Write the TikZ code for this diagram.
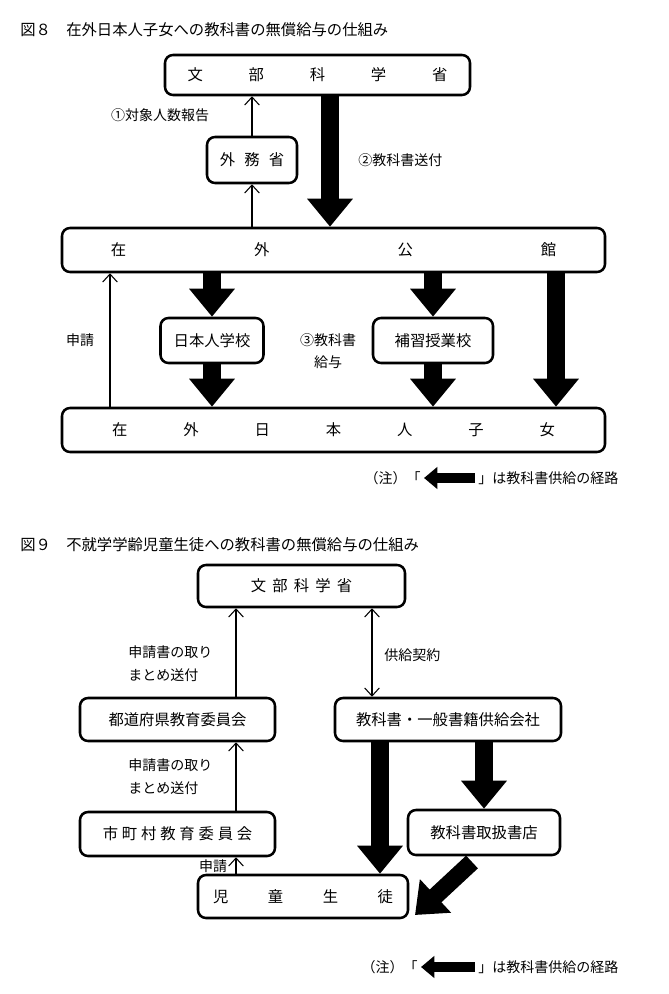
\documentclass[tikz,border=0pt]{standalone}
\usepackage{fontspec}
\setmainfont{Noto Sans CJK JP}
\usetikzlibrary{arrows.meta}
\begin{document}
\begin{tikzpicture}[x=0.75pt,y=-0.75pt,
  box/.style={draw,line width=1.9pt,rounded corners=6pt,inner sep=0pt,font=\fontsize{11.5}{13}\selectfont},
  lbl/.style={inner sep=0pt,font=\fontsize{10.5}{17}\selectfont},
  ttl/.style={inner sep=0pt,anchor=west,font=\fontsize{11.5}{13}\selectfont},
  thin/.style={line width=0.8pt,-{Straight Barb[length=6pt 0 0,width=11pt 0 0]}},
  thinboth/.style={line width=0.8pt,{Straight Barb[length=6pt 0 0,width=11pt 0 0]}-{Straight Barb[length=6pt 0 0,width=11pt 0 0]}},
  fat/.style={line width=13pt,-{Triangle[length=21pt 0 0,width=33pt 0 0]}},
  fatsmall/.style={line width=7.5pt,-{Triangle[length=10pt 0 0,width=16pt 0 0]}}]
\useasboundingbox (0,0) rectangle (668,994);
% ---------- Figure 8 ----------
\node[ttl] (t8) at (20,30) {図８　在外日本人子女への教科書の無償給与の仕組み};
\node[box,minimum width={0.75*305},minimum height={0.75*40}] (m8) at (317.5,75) {\makebox[195pt]{文\hfill 部\hfill 科\hfill 学\hfill 省}};
\node[box,minimum width={0.75*90},minimum height={0.75*46}] (gm) at (252,160) {外\hspace{0.6em}務\hspace{0.6em}省};
\node[box,minimum width={0.75*543},minimum height={0.75*44}] (kk) at (333.5,250) {\makebox[334pt]{在\hfill 外\hfill 公\hfill 館}};
\node[box,minimum width={0.75*103},minimum height={0.75*45}] (nj) at (212,340.5) {日本人学校};
\node[box,minimum width={0.75*120},minimum height={0.75*45}] (hs) at (433,340.5) {補習授業校};
\node[box,minimum width={0.75*543},minimum height={0.75*44}] (sj) at (333.5,430) {\makebox[332pt]{在\hfill 外\hfill 日\hfill 本\hfill 人\hfill 子\hfill 女}};
\draw[thin] (gm.north) -- (m8.south -| gm.north);
\draw[thin] (kk.north -| gm.south) -- (gm.south);
\draw[fat] (m8.south -| 330,0) -- (kk.north -| 330,0);
\draw[fat] (kk.south -| nj.north) -- (nj.north);
\draw[fat] (nj.south) -- (sj.north -| nj.south);
\draw[fat] (kk.south -| hs.north) -- (hs.north);
\draw[fat] (hs.south) -- (sj.north -| hs.south);
\draw[fat] (kk.south -| 556,0) -- (sj.north -| 556,0);
\draw[thin] (sj.north -| 110,0) -- (kk.south -| 110,0);
\node[lbl] (l1) at (160,115) {①対象人数報告};
\node[lbl,anchor=west] (l2) at (358,160) {②教科書送付};
\node[lbl] (l3) at (80,340) {申請};
\node[lbl,align=center] (l4) at (328,351) {③教科書\\給与};
\node[lbl,anchor=east] (n8a) at (421,478) {（注）「};
\node[lbl,anchor=west] (n8b) at (478,478) {」は教科書供給の経路};
\draw[fatsmall] (n8b.west) ++(-3,0) coordinate (n8c) -- (n8a.east -| 424,0);
% ---------- Figure 9 ----------
\node[ttl] (t9) at (20,545) {図９　不就学学齢児童生徒への教科書の無償給与の仕組み};
\node[box,minimum width={0.75*207},minimum height={0.75*42}] (m9) at (301.5,586) {文\hspace{0.4em}部\hspace{0.4em}科\hspace{0.4em}学\hspace{0.4em}省};
\node[box,minimum width={0.75*195},minimum height={0.75*43}] (td) at (177.5,719.5) {都道府県教育委員会};
\node[box,minimum width={0.75*226},minimum height={0.75*43}] (ks) at (448,719.5) {教科書・一般書籍供給会社};
\node[box,minimum width={0.75*195},minimum height={0.75*44}] (sc) at (177.5,834) {市\hspace{0.25em}町\hspace{0.25em}村\hspace{0.25em}教\hspace{0.25em}育\hspace{0.25em}委\hspace{0.25em}員\hspace{0.25em}会};
\node[box,minimum width={0.75*152},minimum height={0.75*45}] (sh) at (484,832.5) {教科書取扱書店};
\node[box,minimum width={0.75*210},minimum height={0.75*43}] (jd) at (303,896.5) {\makebox[135pt]{児\hfill 童\hfill 生\hfill 徒}};
\draw[thin] (td.north -| 236,0) -- (m9.south -| 236,0);
\draw[thin] (sc.north -| 236,0) -- (td.south -| 236,0);
\draw[thin] (jd.north -| 236,0) -- (sc.south -| 236,0);
\draw[thinboth] (m9.south -| 372,0) -- (ks.north -| 372,0);
\draw[fat] (ks.south -| 380,0) -- (jd.north -| 380,0);
\draw[fat] (ks.south -| sh.north) -- (sh.north);
\coordinate (dg) at (472,862);
\draw[fat] (dg) -- (415,915);
\node[lbl,align=left,anchor=west] (l5) at (128,664) {申請書の取り\\まとめ送付};
\node[lbl,align=left,anchor=west] (l6) at (128,777) {申請書の取り\\まとめ送付};
\node[lbl,anchor=west] (l7) at (384,655) {供給契約};
\node[lbl] (l8) at (213,866) {申請};
\node[lbl,anchor=east] (n9a) at (418,967) {（注）「};
\node[lbl,anchor=west] (n9b) at (478,967) {」は教科書供給の経路};
\draw[fatsmall] (n9b.west) ++(-3,0) coordinate (n9c) -- (n9a.east -| 421,0);
\end{tikzpicture}
\end{document}
